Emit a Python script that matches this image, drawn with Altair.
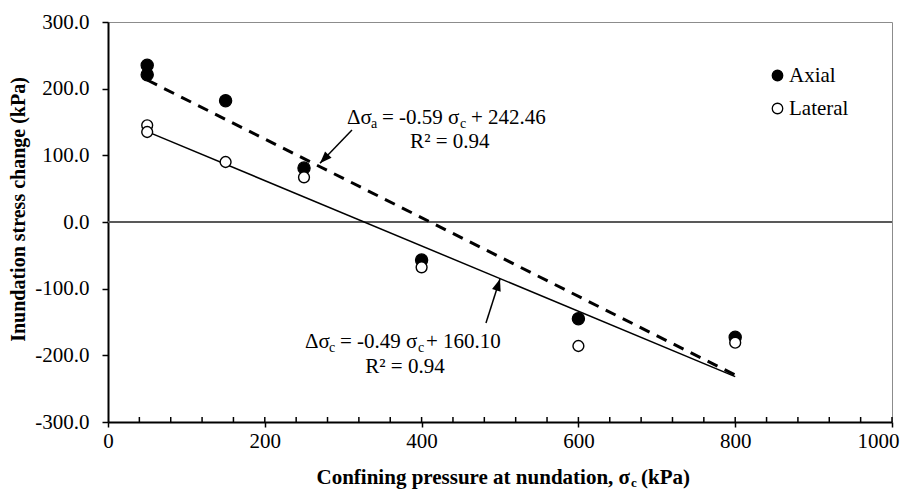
import math
import altair as alt
import pandas as pd

# ---------------- data ----------------
series_names = ["Axial", "Lateral"]
axial_x = [50, 50, 150, 250, 400, 600, 800]
axial_y = [235, 221, 182, 81, -57, -145, -173]
lateral_x = [50, 50, 150, 250, 400, 600, 800]
lateral_y = [145, 135, 90, 67, -68, -186, -181]

trend_x = [50, 800]
axial_trend = [212.96, -229.54]     # -0.59 x + 242.46
lateral_trend = [135.60, -231.90]   # -0.49 x + 160.10

x_major = [0, 200, 400, 600, 800, 1000]
x_minor = [40, 80, 120, 160, 240, 280, 320, 360, 440, 480, 520, 560,
           640, 680, 720, 760, 840, 880, 920, 960]
y_ticks = [-300, -200, -100, 0, 100, 200, 300]

FONT = "Liberation Serif"
W, H = 784, 400
XD, YD = [0, 1000], [-300, 300]
kx, ky = W / (XD[1] - XD[0]), H / (YD[1] - YD[0])

xs = alt.Scale(domain=XD, nice=False, zero=False)
ys = alt.Scale(domain=YD, nice=False, zero=False)

x_axis = alt.Axis(values=x_major, title=None, format="d", labelFont=FONT, labelFontSize=21,
                  labelColor="black", tickColor="black", tickSize=5, tickWidth=1.5,
                  domainColor="black", domainWidth=2, grid=False, labelPadding=3,
                  labelFlush=False,
                  labelOffset={"condition": {"test": "datum.value == 1000", "value": -14},
                               "value": 0})
y_axis = alt.Axis(values=y_ticks, title="Inundation stress change (kPa)",
                  titleFont=FONT, titleFontSize=20, titleFontWeight="bold",
                  titleColor="black", titleX=-90, titleY=187, titleAngle=270,
                  titleAlign="center", titleBaseline="middle",
                  labelFont=FONT, labelFontSize=21, labelColor="black",
                  labelExpr="(datum.value < 0 ? '-' : '') + format(abs(datum.value), '.1f')",
                  tickColor="black", tickSize=6, tickWidth=1.5,
                  domainColor="black", domainWidth=2, grid=False, labelPadding=13)


def X(f="x"):
    return alt.X(f"{f}:Q", scale=xs, axis=x_axis)


def Y(f="y"):
    return alt.Y(f"{f}:Q", scale=ys, axis=y_axis)


fill_enc = alt.Fill(
    "series:N",
    scale=alt.Scale(domain=series_names, range=["black", "white"]),
    legend=alt.Legend(orient="none", legendX=659, legendY=43, title=None,
                      labelFont=FONT, labelFontSize=21, labelColor="black",
                      symbolType="circle", symbolSize=110,
                      symbolStrokeColor="black", symbolStrokeWidth=1.3,
                      rowPadding=11, labelOffset=1, padding=0),
)

# zero line
zero = alt.Chart(pd.DataFrame({"y": [0]})).mark_rule(
    color="#595959", strokeWidth=2).encode(y=Y())

# trend lines
tr_a = alt.Chart(pd.DataFrame({"x": trend_x, "y": axial_trend})).mark_line(
    color="black", strokeWidth=3, strokeDash=[11, 8]).encode(x=X(), y=Y())
tr_l = alt.Chart(pd.DataFrame({"x": trend_x, "y": lateral_trend})).mark_line(
    color="black", strokeWidth=1.5).encode(x=X(), y=Y())

# inner ticks on x axis
inner_ticks = alt.Chart(pd.DataFrame({"x": x_minor + x_major[1:]})).mark_rule(
    color="black", strokeWidth=1.5).encode(
    x=X(), y=alt.value(H), y2=alt.value(H - 5))

# points
pa = pd.DataFrame({"x": axial_x, "y": axial_y, "series": "Axial"})
pl = pd.DataFrame({"x": lateral_x, "y": lateral_y, "series": "Lateral"})
pts_a = alt.Chart(pa).mark_circle(opacity=1, stroke="black", strokeWidth=1.2,
                                  size=150).encode(x=X(), y=Y(), fill=fill_enc)
pts_l = alt.Chart(pl).mark_circle(opacity=1, stroke="black", strokeWidth=1.4,
                                  size=118).encode(x=X(), y=Y(), fill=fill_enc)

# arrows
arrow_start = [(311.2, 138.0), (482.1, -151.5)]
arrow_tip = [(270.4, 88.0), (500.0, -85.5)]
arr_rows = []
for (sx, sy), (tx, ty) in zip(arrow_start, arrow_tip):
    dxp = (tx - sx) * kx
    dyp = -(ty - sy) * ky
    ang = math.degrees(math.atan2(dxp, -dyp)) % 360
    arr_rows.append({"x": sx, "y": sy, "x2": tx, "y2": ty, "angle": ang})
arr = pd.DataFrame(arr_rows)
shafts = alt.Chart(arr).mark_rule(color="black", strokeWidth=1.5).encode(
    x=X(), y=Y(), x2="x2:Q", y2="y2:Q")
heads = alt.Chart(arr).mark_point(shape="M0,0L-0.75,2L0.75,2Z", filled=True,
                                  color="black", opacity=1, size=144).encode(
    x=X("x2"), y=Y("y2"), angle=alt.Angle("angle:Q", scale=None))


def pieces(ax, ay, parts, align="left"):
    layers = []
    df = pd.DataFrame({"x": [ax], "y": [ay]})
    for txt, dx, dy, fs in parts:
        layers.append(alt.Chart(df).mark_text(
            text=txt, align=align, baseline="middle", font=FONT, fontSize=fs,
            color="black", dx=dx, dy=dy).encode(x=X(), y=Y()))
    return layers


eq_a = pieces(304.8, 156.0, [("Δσ", 0, 0, 21), ("a", 24, 6, 14),
                             ("= -0.59 σ", 35, 0, 21), ("c", 113, 6, 14),
                             ("+ 242.46", 124, 0, 21)])
r2_a = pieces(436.0, 120.0, [("R² = 0.94", 0, 0, 21)], align="center")
eq_l = pieces(251.3, -180.0, [("Δσ", 0, 0, 21), ("c", 24, 6, 14),
                              ("= -0.49 σ", 35, 0, 21), ("c", 113, 6, 14),
                              ("+ 160.10", 121, 0, 21)])
r2_l = pieces(378.8, -217.5, [("R² = 0.94", 0, 0, 21)], align="center")

# x axis title with subscript
one = pd.DataFrame({"a": [0]})
xt1 = alt.Chart(one).mark_text(text="Confining pressure at nundation, σ", align="right",
                               baseline="middle", font=FONT, fontSize=21,
                               fontWeight="bold", color="black").encode(
    x=alt.value(522), y=alt.value(456))
xt2 = alt.Chart(one).mark_text(text="c", align="left", baseline="middle", font=FONT,
                               fontSize=13, fontWeight="bold", color="black").encode(
    x=alt.value(523), y=alt.value(461))
xt3 = alt.Chart(one).mark_text(text="(kPa)", align="left", baseline="middle", font=FONT,
                               fontSize=21, fontWeight="bold", color="black").encode(
    x=alt.value(533), y=alt.value(456))

chart = alt.layer(
    zero, tr_a, tr_l, inner_ticks, pts_a, pts_l, shafts, heads,
    *eq_a, *r2_a, *eq_l, *r2_l, xt1, xt2, xt3
).properties(
    width=W, height=H,
    padding={"left": 100, "top": 14, "right": 16, "bottom": 68},
    autosize=alt.AutoSizeParams(type="none"),
).configure_view(stroke="#8c8c8c", strokeWidth=1)

chart.save("out.html", embed_options={"renderer": "svg", "actions": False})
